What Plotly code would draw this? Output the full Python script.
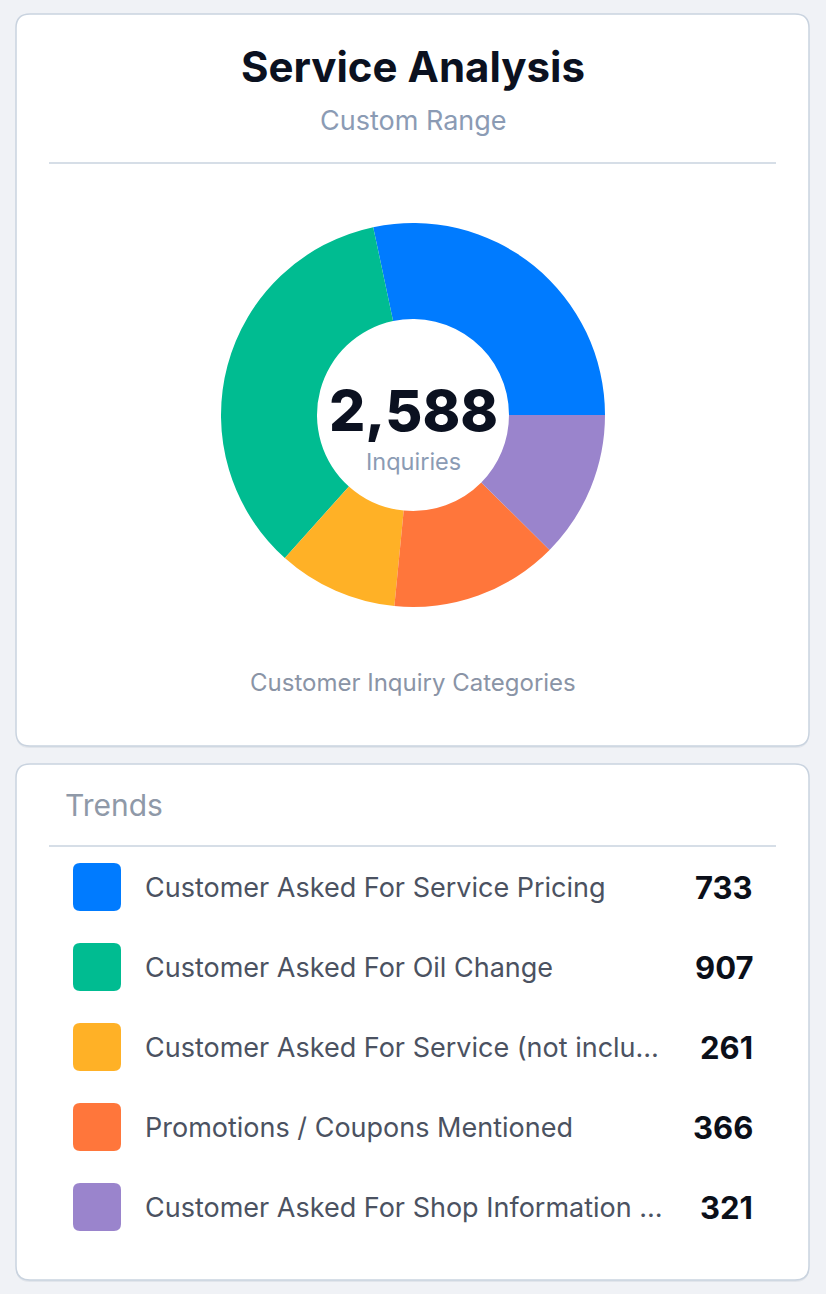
import plotly.graph_objects as go

# data
categories = [
    "Customer Asked For Service Pricing",
    "Customer Asked For Oil Change",
    "Customer Asked For Service (not inclu…",
    "Promotions / Coupons Mentioned",
    "Customer Asked For Shop Information …",
]
counts = [733, 907, 261, 366, 321]
colors = ["#007bff", "#00bc91", "#ffb126", "#ff763b", "#9a84cc"]

title_text = "Service Analysis"
subtitle_text = "Custom Range"
center_label = "Inquiries"
caption_text = "Customer Inquiry Categories"
list_title = "Trends"

W, H = 826, 1294
FONT = "Inter"
BG = "#f0f2f6"


def fx(p):
    return p / W


def fy(p):
    return 1 - p / H


def rounded_rect(x0, y0, x1, y1, r):
    rx, ry = r / W, r / H
    X0, X1, T, B = fx(x0), fx(x1), fy(y0), fy(y1)
    return (f"M {X0 + rx},{T} L {X1 - rx},{T} Q {X1},{T} {X1},{T - ry} "
            f"L {X1},{B + ry} Q {X1},{B} {X1 - rx},{B} L {X0 + rx},{B} "
            f"Q {X0},{B} {X0},{B + ry} L {X0},{T - ry} Q {X0},{T} {X0 + rx},{T} Z")


def swatch_path(half, r):
    # rounded square in pixels around the anchor point
    return (f"M {-half + r},{-half} L {half - r},{-half} Q {half},{-half} {half},{-half + r} "
            f"L {half},{half - r} Q {half},{half} {half - r},{half} L {-half + r},{half} "
            f"Q {-half},{half} {-half},{half - r} L {-half},{-half + r} Q {-half},{-half} {-half + r},{-half} Z")


total = sum(counts)

fig = go.Figure()

# first slice starts at 3 o'clock and the rest run counterclockwise
fig.add_trace(go.Pie(
    labels=categories,
    values=counts,
    marker=dict(colors=colors, line=dict(width=0)),
    hole=0.5,
    sort=False,
    direction="counterclockwise",
    rotation=90 - 360 * counts[0] / total,
    textinfo="none",
    showlegend=False,
    domain=dict(x=[fx(221), fx(605)], y=[fy(607), fy(223)]),
))

shapes = []
# cards (soft shadow + white card)
for top, bottom in [(14, 746), (764, 1280)]:
    shapes.append(dict(type="path", xref="paper", yref="paper", layer="below",
                       path=rounded_rect(16, top + 2, 809, bottom + 2, 14),
                       fillcolor="rgba(100,116,139,0.10)", line=dict(width=0)))
    shapes.append(dict(type="path", xref="paper", yref="paper", layer="below",
                       path=rounded_rect(16, top, 809, bottom, 14),
                       fillcolor="white", line=dict(color="#c9d3df", width=1.5)))
# dividers
for yline in [163, 846]:
    shapes.append(dict(type="line", xref="paper", yref="paper",
                       x0=fx(49), x1=fx(776), y0=fy(yline), y1=fy(yline),
                       line=dict(color="#c9d3df", width=1.5)))
# legend swatches anchored on the list axis
for i, c in enumerate(colors):
    shapes.append(dict(type="path", xref="x", yref="y", xsizemode="pixel", ysizemode="pixel",
                       xanchor=0, yanchor=i, path=swatch_path(24, 7),
                       fillcolor=c, line=dict(width=0)))

annotations = [
    dict(text=title_text, x=fx(413), y=fy(66), font=dict(size=42, color="#0b1120", weight=700)),
    dict(text=subtitle_text, x=fx(413), y=fy(120), font=dict(size=27, color="#8b9bb4")),
    dict(text=f"{total:,}", x=fx(413), y=fy(410), font=dict(size=57, color="#0b1120", weight=800)),
    dict(text=center_label, x=fx(413), y=fy(461), font=dict(size=23.5, color="#8b9bb4")),
    dict(text=caption_text, x=fx(413), y=fy(682), font=dict(size=24, color="#8a94a6")),
    dict(text=list_title, x=fx(63), y=fy(805), xanchor="left", font=dict(size=30, color="#8f99a8")),
]
for a in annotations:
    a.update(xref="paper", yref="paper", showarrow=False, yanchor="middle")
    a.setdefault("xanchor", "center")
    a["font"]["family"] = FONT

for i, (name, v) in enumerate(zip(categories, counts)):
    annotations.append(dict(text=name, xref="paper", yref="y", x=fx(143), y=i,
                            xanchor="left", yanchor="middle", showarrow=False,
                            font=dict(family=FONT, size=27, color="#4b5261")))
    annotations.append(dict(text=str(v), xref="paper", yref="y", x=fx(755), y=i,
                            xanchor="right", yanchor="middle", showarrow=False,
                            font=dict(family=FONT, size=31, color="#0b0f19", weight=700)))

n = len(categories)
fig.update_layout(
    width=W, height=H,
    margin=dict(l=0, r=0, t=0, b=0),
    paper_bgcolor=BG,
    plot_bgcolor="rgba(0,0,0,0)",
    font=dict(family=FONT),
    shapes=shapes,
    annotations=annotations,
    xaxis=dict(visible=False, range=[-1, 1], domain=[fx(73), fx(121)], fixedrange=True),
    yaxis=dict(visible=False, range=[n - 0.5, -0.5], domain=[fy(1247), fy(847)], fixedrange=True),
)

fig.write_html(
    "out.html",
    config={"displayModeBar": False},
    post_script=f"document.body.style.margin='0px'; document.body.style.background='{BG}';",
)
print("saved out.html")
